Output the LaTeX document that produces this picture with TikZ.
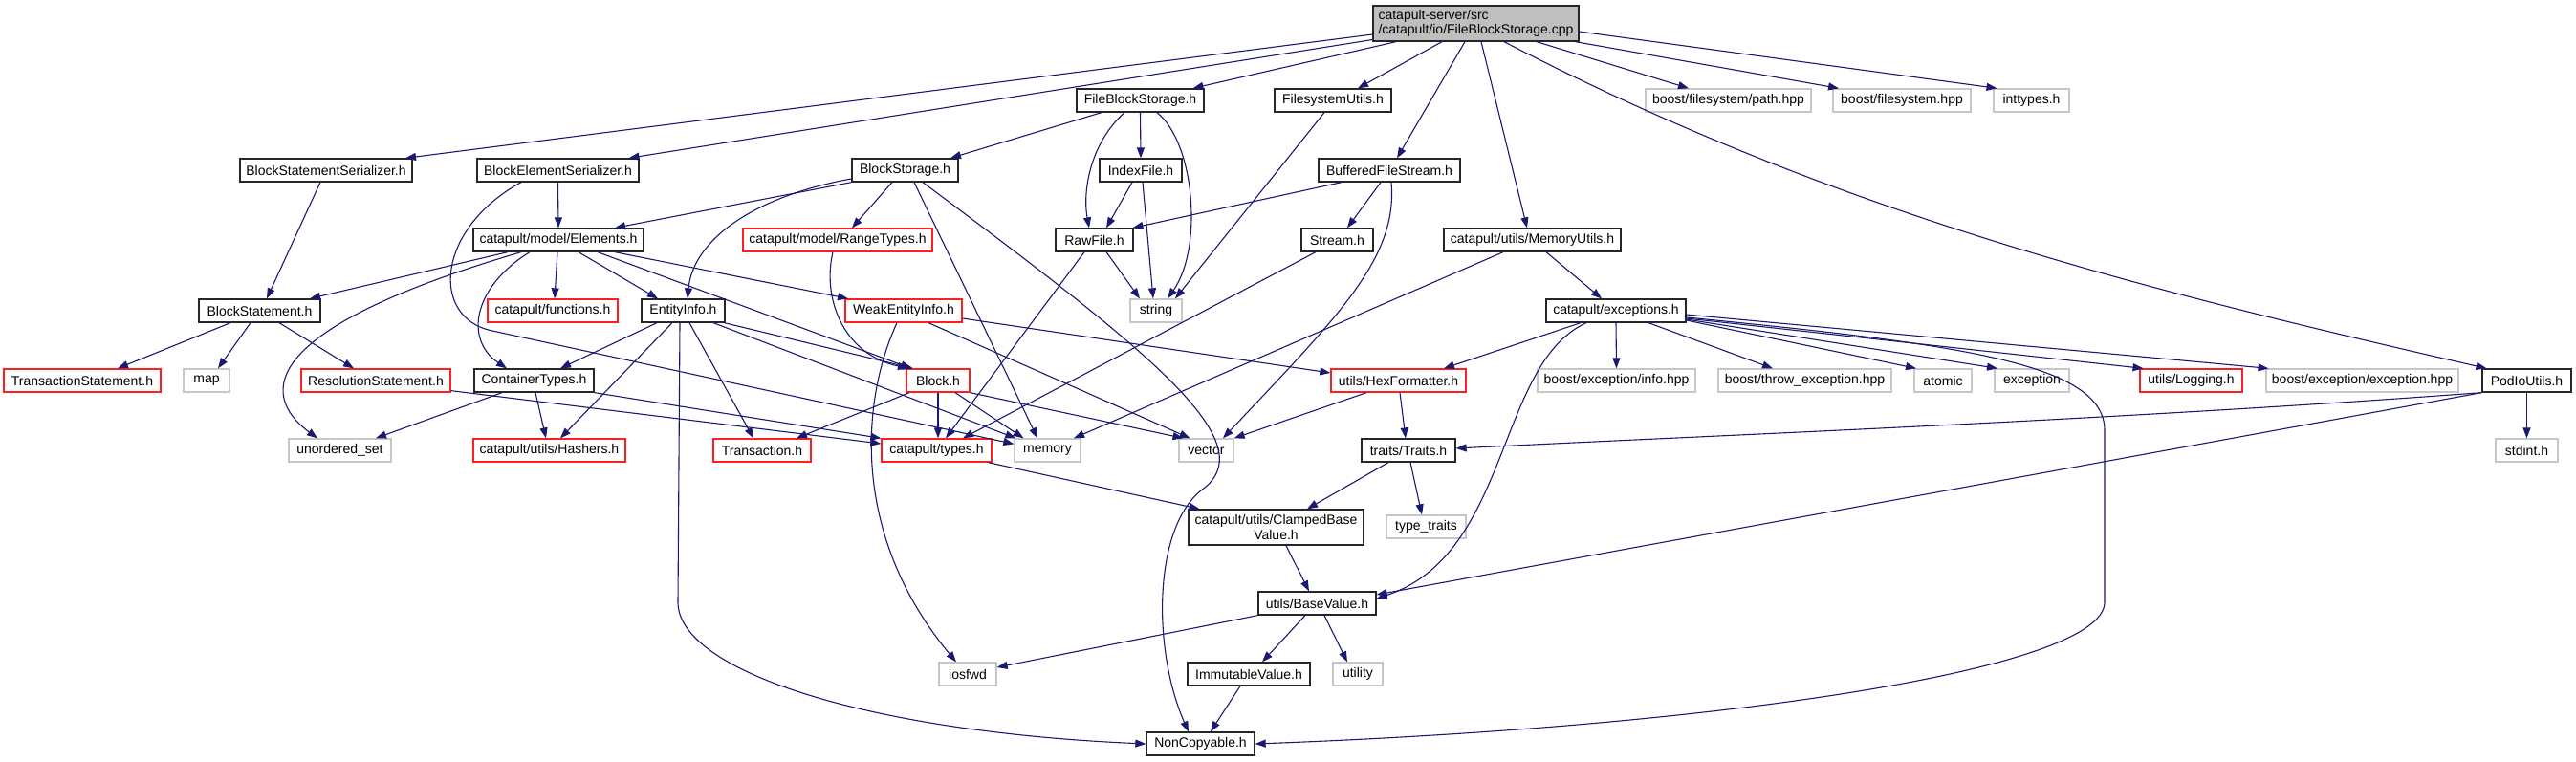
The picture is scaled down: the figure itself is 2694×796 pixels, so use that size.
\documentclass[tikz,border=0pt]{standalone}
\usepackage{fontspec}
\setmainfont{Liberation Sans}
\usetikzlibrary{arrows.meta}
\definecolor{navy}{RGB}{25,25,112}
\definecolor{grey75}{RGB}{191,191,191}
\definecolor{redb}{RGB}{255,30,30}
\newcommand{\fsz}{\fontsize{14}{15.5}\selectfont}
\tikzset{
  nodebase/.style={rectangle, inner sep=0pt, minimum height=24pt, font=\fsz, text=black, line width=1.3pt},
  nb/.style={nodebase, draw=black!85},
  nr/.style={nodebase, draw=redb},
  ng/.style={nodebase, draw=black!22},
  dep/.style={draw=navy, line width=1.1pt, -{Triangle[length=11pt,width=8pt]}},
}
\begin{document}
\begin{tikzpicture}[x=1pt,y=1pt]
\useasboundingbox (0,0) rectangle (2694,-796);
% row 0
\node[nb, fill=grey75, minimum width=215pt, minimum height=37pt, align=left] (main) at (1543.5,-24.5) {catapult-server/src\\/catapult/io/FileBlockStorage.cpp};
% row 1
\node[nb, minimum width=133pt] (fbs) at (1192.5,-105) {FileBlockStorage.h};
\node[nb, minimum width=122pt] (fsu) at (1394,-105) {FilesystemUtils.h};
\node[ng, minimum width=173pt] (path) at (1807.5,-105) {boost/filesystem/path.hpp};
\node[ng, minimum width=144pt] (bfshpp) at (1989,-105) {boost/filesystem.hpp};
\node[ng, minimum width=79pt] (inttypes) at (2124.5,-105) {inttypes.h};
% row 2
\node[nb, minimum width=180pt] (bss) at (341,-178) {BlockStatementSerializer.h};
\node[nb, minimum width=169pt] (bes) at (583.5,-178) {BlockElementSerializer.h};
\node[nb, minimum width=111pt] (bst) at (946.5,-178) {BlockStorage.h};
\node[nb, minimum width=86pt] (idx) at (1193,-178) {IndexFile.h};
\node[nb, minimum width=148pt] (bufs) at (1453,-178) {BufferedFileStream.h};
% row 3
\node[nb, minimum width=178pt] (elem) at (584,-251) {catapult/model/Elements.h};
\node[nr, minimum width=198pt] (range) at (876,-251) {catapult/model/RangeTypes.h};
\node[nb, minimum width=81pt] (raw) at (1144.5,-251) {RawFile.h};
\node[nb, minimum width=75pt] (stream) at (1398.5,-251) {Stream.h};
\node[nb, minimum width=185pt] (mem) at (1602.5,-251) {catapult/utils/MemoryUtils.h};
% row 4
\node[nb, minimum width=127pt] (bstmt) at (271.5,-325) {BlockStatement.h};
\node[nr, minimum width=136pt] (func) at (578,-325) {catapult/functions.h};
\node[nb, minimum width=87pt] (ent) at (714.5,-325) {EntityInfo.h};
\node[nr, minimum width=122pt] (weak) at (945,-325) {WeakEntityInfo.h};
\node[ng, minimum width=54pt] (string) at (1209,-325) {string};
\node[nb, minimum width=146pt] (exc) at (1690,-325) {catapult/exceptions.h};
% row 5
\node[nr, minimum width=164pt] (tstmt) at (86,-398) {TransactionStatement.h};
\node[ng, minimum width=48pt] (map) at (216,-398) {map};
\node[nr, minimum width=156pt] (rstmt) at (393,-398) {ResolutionStatement.h};
\node[nb, minimum width=125pt] (ctypes) at (558.5,-398) {ContainerTypes.h};
\node[nr, minimum width=66pt] (block) at (981,-398) {Block.h};
\node[nr, minimum width=141pt] (hex) at (1462.5,-398) {utils/HexFormatter.h};
\node[ng, minimum width=165pt] (info) at (1690.5,-398) {boost/exception/info.hpp};
\node[ng, minimum width=181pt] (throw) at (1887.5,-398) {boost/throw\_exception.hpp};
\node[ng, minimum width=60pt] (atomic) at (2032,-398) {atomic};
\node[ng, minimum width=78pt] (exception) at (2125,-398) {exception};
\node[nr, minimum width=107pt] (logging) at (2291.5,-398) {utils/Logging.h};
\node[ng, minimum width=201pt] (bexc) at (2470.5,-398) {boost/exception/exception.hpp};
\node[nb, minimum width=93pt] (podio) at (2642.5,-398) {PodIoUtils.h};
% row 6
\node[ng, minimum width=107pt] (uset) at (355.5,-471) {unordered\_set};
\node[nr, minimum width=159pt] (hash) at (574.5,-471) {catapult/utils/Hashers.h};
\node[nr, minimum width=102pt] (trans) at (797,-471) {Transaction.h};
\node[nr, minimum width=115pt] (types) at (979.5,-471) {catapult/types.h};
\node[ng, minimum width=69pt] (memory) at (1095.5,-471) {memory};
\node[ng, minimum width=57pt] (vector) at (1261.5,-471) {vector};
\node[nb, minimum width=98pt] (traits) at (1473,-471) {traits/Traits.h};
\node[ng, minimum width=65pt] (stdint) at (2642.5,-471) {stdint.h};
% row 7
\node[nb, minimum width=183pt, minimum height=37pt, align=center] (clamp) at (1334.5,-551.5) {catapult/utils/ClampedBase\\Value.h};
\node[ng, minimum width=83pt] (ttraits) at (1491.5,-551) {type\_traits};
% row 8
\node[nb, minimum width=123pt] (base) at (1377.5,-631) {utils/BaseValue.h};
% row 9
\node[ng, minimum width=60pt] (iosfwd) at (1012,-705) {iosfwd};
\node[nb, minimum width=128pt] (imm) at (1306,-705) {ImmutableValue.h};
\node[ng, minimum width=52pt] (utility) at (1420,-705) {utility};
% row 10
\node[nb, minimum width=113pt] (noncopy) at (1255.5,-778) {NonCopyable.h};

% ---- edges from main
\draw[dep] ([yshift=-11.5pt]main.west) -- ([xshift=83pt]bss.north);
\draw[dep] ([yshift=-17pt]main.west) -- ([xshift=74pt]bes.north);
\draw[dep] ([xshift=-83.5pt]main.south) -- ([xshift=55pt]fbs.north);
\draw[dep] ([xshift=-35.5pt]main.south) -- ([xshift=26pt]fsu.north);
\draw[dep] ([xshift=-11.5pt]main.south) -- ([xshift=8pt]bufs.north);
\draw[dep] ([xshift=5.5pt]main.south) -- ([xshift=-5.5pt]mem.north);
\draw[dep] ([xshift=29.5pt]main.south) .. controls (1923,-225) and (2246,-304) .. ([xshift=-42pt]podio.north);
\draw[dep] ([xshift=63.5pt]main.south) -- ([xshift=-41.5pt]path.north);
\draw[dep] ([xshift=104pt]main.south) -- ([xshift=-66pt]bfshpp.north);
\draw[dep] ([yshift=-8.5pt]main.east) -- ([xshift=-36pt]inttypes.north);
% ---- FileBlockStorage
\draw[dep] ([xshift=-40.5pt]fbs.south) -- ([xshift=47.5pt]bst.north);
\draw[dep] ([xshift=-16.5pt]fbs.south) .. controls (1140,-150) and (1132,-200) .. ([xshift=-5.5pt]raw.north);
\draw[dep] (fbs.south) -- (idx.north);
\draw[dep] ([xshift=17.5pt]fbs.south) .. controls (1250,-150) and (1258,-260) .. ([xshift=12pt]string.north);
\draw[dep] ([xshift=-9pt]fsu.south) -- ([xshift=20pt]string.north);
% ---- serializers
\draw[dep] ([xshift=-6pt]bss.south) -- ([xshift=7.5pt]bstmt.north);
\draw[dep] (bes.south) -- (elem.north);
\draw[dep] ([xshift=-38.5pt]bes.south) .. controls (455,-240) and (450,-333) .. (515,-346) -- ([yshift=-6pt]memory.north west);
% ---- BlockStorage
\draw[dep] (bst.south west) -- ([xshift=59pt]elem.north);
\draw[dep] ([yshift=-9pt]bst.west) .. controls (790,-205) and (725,-250) .. ([xshift=4.5pt]ent.north);
\draw[dep] ([xshift=-13.5pt]bst.south) -- ([xshift=15pt]range.north);
\draw[dep] ([xshift=9.5pt]bst.south) -- ([xshift=-10.5pt]memory.north);
\draw[dep] ([xshift=18.5pt]bst.south) .. controls (1200,-366) and (1320,-460) .. (1260,-510) .. controls (1205,-548) and (1205,-680) .. ([xshift=-12.5pt]noncopy.north);
% ---- IndexFile, BufferedFileStream, Stream, RawFile, MemoryUtils
\draw[dep] ([xshift=-9pt]idx.south) -- ([xshift=12.5pt]raw.north);
\draw[dep] ([xshift=2pt]idx.south) -- ([xshift=-3pt]string.north);
\draw[dep] ([xshift=-50pt]bufs.south) -- ([xshift=40pt]raw.north);
\draw[dep] ([xshift=-9pt]bufs.south) -- ([xshift=10.5pt]stream.north);
\draw[dep] ([xshift=2pt]bufs.south) .. controls (1462,-270) and (1400,-330) .. ([xshift=17.5pt]vector.north);
\draw[dep] ([xshift=-22.5pt]stream.south) -- ([xshift=27.5pt]types.north);
\draw[dep] ([xshift=12.5pt]raw.south) -- ([xshift=-17pt]string.north);
\draw[dep] ([xshift=-10.5pt]raw.south) -- ([xshift=9.5pt]types.north);
\draw[dep] ([xshift=14.5pt]mem.south) -- ([xshift=-15pt]exc.north);
\draw[dep] ([xshift=-30.5pt]mem.south) -- ([xshift=27.5pt]memory.north);
% ---- Elements
\draw[dep] ([xshift=-53pt]elem.south) -- ([xshift=52.5pt]bstmt.north);
\draw[dep] ([xshift=-39pt]elem.south) .. controls (250,-350) and (280,-420) .. ([xshift=-23.5pt]uset.north);
\draw[dep] ([xshift=-30pt]elem.south) .. controls (495,-300) and (485,-355) .. ([xshift=-28.5pt]ctypes.north);
\draw[dep] ([xshift=-1pt]elem.south) -- ([xshift=2pt]func.north);
\draw[dep] ([xshift=21pt]elem.south) -- ([xshift=-26.5pt]ent.north);
\draw[dep] ([xshift=41pt]elem.south) -- ([xshift=-28pt]block.north);
\draw[dep] ([xshift=59pt]elem.south) -- ([xshift=-58pt]weak.north);
% ---- EntityInfo
\draw[dep] ([xshift=-27.5pt]ent.south) -- ([xshift=27.5pt]ctypes.north);
\draw[dep] ([xshift=-11.5pt]ent.south) -- ([xshift=11.5pt]hash.north);
\draw[dep] ([xshift=-3.5pt]ent.south) -- (709,-630) .. controls (709,-700) and (900,-765) .. (noncopy.west);
\draw[dep] ([xshift=6.5pt]ent.south) -- ([xshift=-9pt]trans.north);
\draw[dep] ([xshift=43pt]ent.south) -- ([xshift=-26pt]block.north);
\draw[dep] ([xshift=31.5pt]ent.south) -- ([xshift=2pt]memory.north west);
% ---- Block, RangeTypes, WeakEntityInfo
\draw[dep] ([xshift=-30pt]block.south) -- ([xshift=36pt]trans.north);
\draw[dep] (block.south) -- ([xshift=1.5pt]types.north);
\draw[dep] ([xshift=18pt]block.south) -- ([xshift=-25pt]memory.north);
\draw[dep] (block.south east) -- ([xshift=-24pt]vector.north);
\draw[dep] ([xshift=-5pt]range.south) .. controls (860,-310) and (880,-370) .. ([xshift=-31pt]block.north);
\draw[dep] ([xshift=-7pt]weak.south) .. controls (900,-420) and (890,-560) .. ([xshift=-12pt]iosfwd.north);
\draw[dep] ([xshift=26pt]weak.south) -- ([xshift=-17pt]vector.north);
\draw[dep] ([yshift=-8pt]weak.east) -- ([yshift=8pt]hex.west);
% ---- exceptions
\draw[dep] ([xshift=-37pt]exc.south) -- ([xshift=47.5pt]hex.north);
\draw[dep] ([xshift=-31pt]exc.south) .. controls (1565,-380) and (1580,-580) .. ([yshift=5pt]base.east);
\draw[dep] (exc.south) -- (info.north);
\draw[dep] ([xshift=34pt]exc.south) -- ([xshift=-33.5pt]throw.north);
\draw[dep] ([yshift=-10pt]exc.east) -- ([xshift=-28pt]atomic.north);
\draw[dep] ([yshift=-9pt]exc.east) -- ([xshift=-36pt]exception.north);
\draw[dep] ([yshift=-8pt]exc.east) -- ([xshift=-50pt]logging.north);
\draw[dep] ([yshift=-4pt]exc.east) -- ([xshift=-98pt]bexc.north);
\draw[dep] ([yshift=-7pt]exc.east) .. controls (2050,-360) and (2201,-380) .. (2201,-450) -- (2201,-630) .. controls (2201,-700) and (1800,-760) .. (noncopy.east);
% ---- HexFormatter, types, traits, etc.
\draw[dep] ([xshift=-33.5pt]hex.south) -- (vector.north east);
\draw[dep] ([xshift=1.5pt]hex.south) -- ([xshift=-3pt]traits.north);
\draw[dep] ([xshift=54pt]types.south) -- ([xshift=-80pt]clamp.north);
\draw[dep] ([xshift=-21pt]traits.south) -- ([xshift=32.5pt]clamp.north);
\draw[dep] ([xshift=2pt]traits.south) -- ([xshift=-4.5pt]ttraits.north);
\draw[dep] ([xshift=10.5pt]clamp.south) -- ([xshift=-8.5pt]base.north);
\draw[dep] (base.south west) -- ([yshift=7pt]iosfwd.east);
\draw[dep] ([xshift=-12.5pt]base.south) -- ([xshift=14pt]imm.north);
\draw[dep] ([xshift=7.5pt]base.south) -- ([xshift=-11pt]utility.north);
\draw[dep] ([xshift=-9pt]imm.south) -- ([xshift=10.5pt]noncopy.north);
% ---- PodIoUtils
\draw[dep] (podio.south west) .. controls (2200,-440) and (1800,-455) .. ([yshift=2pt]traits.east);
\draw[dep] (podio.south west) -- ([yshift=9pt]base.east);
\draw[dep] (podio.south) -- (stdint.north);
% ---- BlockStatement
\draw[dep] ([xshift=-30.5pt]bstmt.south) -- ([xshift=37pt]tstmt.north);
\draw[dep] ([xshift=-9.5pt]bstmt.south) -- ([xshift=12pt]map.north);
\draw[dep] ([xshift=20.5pt]bstmt.south) -- ([xshift=-23pt]rstmt.north);
% ---- ResolutionStatement, ContainerTypes
\draw[dep] ([yshift=2pt]rstmt.south east) -- ([yshift=7pt]types.west);
\draw[dep] (ctypes.south east) -- (types.north west);
\draw[dep] ([xshift=-33.5pt]ctypes.south) -- ([xshift=37.5pt]uset.north);
\draw[dep] ([xshift=1.5pt]ctypes.south) -- ([xshift=-3.5pt]hash.north);
\end{tikzpicture}
\end{document}
